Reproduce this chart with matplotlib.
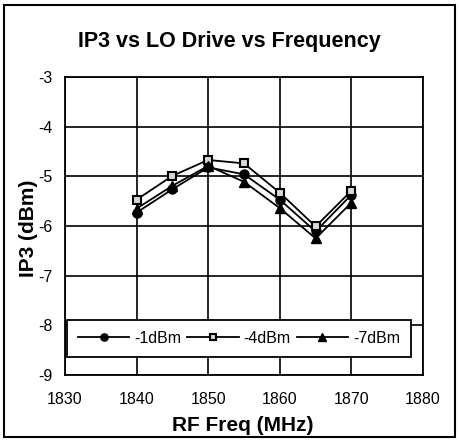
import matplotlib
matplotlib.use("Agg")
import matplotlib.pyplot as plt
from matplotlib.patches import Rectangle

freq = [1840, 1845, 1850, 1855, 1860, 1865, 1870]
ip3_1dbm = [-5.73, -5.26, -4.82, -4.96, -5.47, -6.11, -5.37]
ip3_4dbm = [-5.47, -4.99, -4.67, -4.74, -5.33, -6.01, -5.29]
ip3_7dbm = [-5.65, -5.19, -4.79, -5.11, -5.64, -6.25, -5.53]
labels = ["-1dBm", "-4dBm", "-7dBm"]

plt.rcParams["font.family"] = ["Liberation Sans", "DejaVu Sans"]
plt.rcParams["axes.unicode_minus"] = False

W, H = 459, 441
fig = plt.figure(figsize=(W / 100, H / 100), dpi=100)
ax = fig.add_axes([65 / W, 1 - 375 / H, 358 / W, 298 / H])

ax.plot(freq, ip3_1dbm, color="black", lw=1.3, marker="o", ms=6.5, label=labels[0])
ax.plot(freq, ip3_4dbm, color="black", lw=1.3, marker="s", ms=6,
        mfc="#d8d8d8", mec="black", mew=1.5, label=labels[1])
ax.plot(freq, ip3_7dbm, color="black", lw=1.3, marker="^", ms=7.5, label=labels[2])

ax.set_xlim(1830, 1880)
ax.set_ylim(-9, -3)
ax.set_xticks(range(1830, 1881, 10))
ax.set_yticks(range(-9, -2))
ax.grid(True, color="black", lw=1.2)
ax.tick_params(length=0, labelsize=11.5)
ax.tick_params(axis="x", pad=12)
ax.tick_params(axis="y", pad=9)
for s in ax.spines.values():
    s.set_linewidth(1.3)

# titres placés à la main (coordonnées en pixels de la figure)
fig.text(229 / W, 1 - 47 / H, "IP3 vs LO Drive vs Frequency", fontsize=15.5,
         fontweight="bold", ha="center", va="baseline")
fig.text(243 / W, 1 - 431 / H, "RF Freq (MHz)", fontsize=15,
         fontweight="bold", ha="center", va="baseline")
fig.text(34 / W, 1 - 228 / H, "IP3 (dBm)", fontsize=15, fontweight="bold",
         rotation=90, rotation_mode="anchor", ha="center", va="baseline")

leg = ax.legend(loc="lower center", ncol=3, bbox_to_anchor=(0.486, 0.06),
                fancybox=False, edgecolor="black", framealpha=1, fontsize=11.5,
                handlelength=3.2, columnspacing=0.4, handletextpad=0.3,
                borderpad=0.7, borderaxespad=0, markerscale=0.8)
leg.get_frame().set_linewidth(1.3)

fig.add_artist(Rectangle((0.009, 0.009), 0.982, 0.98, transform=fig.transFigure,
                         fill=False, edgecolor="black", lw=1.5))

fig.savefig("out.png", dpi=100)
